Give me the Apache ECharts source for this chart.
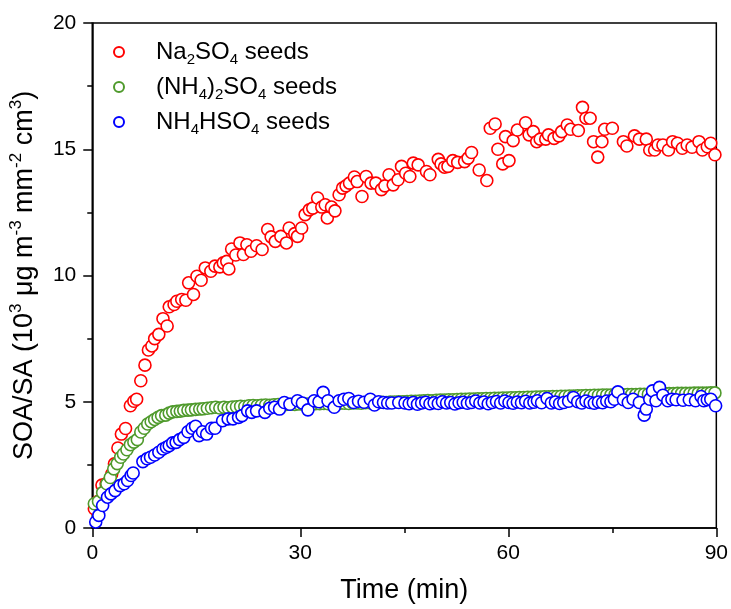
<!DOCTYPE html>
<html>
<head>
<meta charset="utf-8">
<script src="https://cdn.jsdelivr.net/npm/echarts@6/dist/echarts.min.js"></script>
<style>
  html, body { margin: 0; padding: 0; background: #fff; }
  #chart { width: 731px; height: 609px; }
</style>
</head>
<body>
<div id="chart"></div>
<script>
// SOA/SA growth over time for three seed types (10^3 µg m^-3 mm^-2 cm^3)

// Na2SO4 seeds
const naTime = [0.3,0.8,1.4,2.0,2.8,3.2,3.7,4.2,4.8,5.5,6.0,6.4,7.0,7.6,8.1,8.6,9.0,9.6,10.2,10.8,
  11.1,11.8,12.2,12.9,13.5,13.9,14.6,15.1,15.7,16.3,17.1,17.7,18.4,18.9,19.4,19.7,20.1,20.7,21.3,21.8,
  22.3,22.9,23.7,24.5,25.3,25.8,26.4,27.2,28.0,28.4,29.2,29.6,30.2,30.7,31.3,31.8,32.5,33.1,33.6,33.9,
  34.5,35.0,35.6,36.1,36.6,37.1,37.8,38.2,38.9,39.5,40.2,40.9,41.7,42.2,42.8,43.4,44.1,44.6,45.2,45.8,
  46.3,47.0,48.2,48.7,49.9,50.3,50.8,51.3,52.0,52.7,53.7,54.2,54.7,55.8,56.9,57.4,58.1,58.5,59.2,59.6,
  60.1,60.7,61.3,62.5,63.0,63.6,64.1,64.6,65.4,65.8,66.6,67.3,67.7,68.5,69.0,70.1,70.7,71.2,71.8,72.3,
  72.9,73.5,73.9,75.0,76.6,77.1,78.2,78.9,79.9,80.4,81.1,81.6,82.3,83.1,83.7,84.4,85.1,85.8,86.5,87.5,
  88.0,88.7,89.2,89.8];
const naValue = [0.76,1.05,1.70,1.75,2.14,2.54,3.17,3.72,3.94,4.84,5.02,5.10,5.83,6.45,7.05,7.21,7.50,7.67,8.29,8.00,
  8.76,8.85,8.98,9.05,9.02,9.71,9.25,9.97,9.81,10.30,10.17,10.37,10.34,10.50,10.56,10.26,11.05,10.81,11.29,10.83,
  11.22,10.96,11.18,11.03,11.82,11.53,11.35,11.55,11.29,11.88,11.66,11.55,11.88,12.41,12.60,12.67,13.07,12.71,12.80,12.28,
  12.71,12.56,13.20,13.46,13.55,13.66,13.90,13.72,13.13,13.92,13.66,13.66,13.40,13.55,13.99,13.59,13.79,14.32,14.05,13.92,
  14.45,14.38,14.12,13.99,14.60,14.42,14.29,14.32,14.55,14.48,14.51,14.65,14.87,14.18,13.76,15.83,16.00,15.00,14.42,15.50,
  14.55,15.34,15.76,16.05,15.57,15.70,15.30,15.40,15.40,15.57,15.43,15.53,15.70,15.96,15.79,15.74,16.66,16.23,16.23,15.30,
  14.69,15.30,15.79,15.83,15.30,15.13,15.53,15.40,15.40,14.97,14.97,15.17,15.17,14.97,15.30,15.24,15.04,15.17,15.08,15.30,
  14.97,15.10,15.24,14.78];

// (NH4)2SO4 seeds
const anTime = [0.3,0.9,1.5,2.1,2.6,3.1,3.6,4.1,4.5,5.0,5.5,6.0,6.5,7.0,7.5,8.0,8.5,9.0,9.5,10.0,
  10.6,11.1,11.6,12.2,12.7,13.2,13.8,14.3,14.9,15.5,16.0,16.6,17.2,17.8,18.4,19.0,19.6,20.2,20.8,21.4,
  22.0,22.6,23.2,23.8,24.4,25.0,25.6,26.2,26.8,27.4,28.0,28.6,29.2,29.8,30.4,31.0,31.6,32.2,32.8,33.4,
  34.0,34.6,35.2,35.8,36.4,37.0,37.6,38.2,38.8,39.4,40.0,40.6,41.2,41.8,42.4,43.0,43.6,44.2,44.8,45.4,
  46.0,46.6,47.2,47.8,48.4,49.0,49.6,50.2,50.8,51.4,52.0,52.6,53.2,53.8,54.4,55.0,55.6,56.2,56.8,57.4,
  58.0,58.6,59.2,59.8,60.4,61.0,61.6,62.2,62.8,63.4,64.0,64.6,65.2,65.8,66.4,67.0,67.6,68.2,68.8,69.4,
  70.0,70.6,71.2,71.8,72.4,73.0,73.6,74.2,74.8,75.4,76.0,76.6,77.2,77.8,78.4,79.0,79.6,80.2,80.8,81.4,
  82.0,82.6,83.2,83.8,84.4,85.0,85.6,86.2,86.8,87.4,88.0,88.6,89.2,89.8];
const anValue = [0.96,1.05,1.40,1.75,2.00,2.34,2.55,2.80,2.93,3.10,3.30,3.40,3.50,3.80,3.95,4.12,4.21,4.30,4.38,4.45,
  4.47,4.55,4.60,4.62,4.63,4.66,4.67,4.68,4.70,4.71,4.72,4.74,4.76,4.78,4.75,4.78,4.76,4.79,4.80,4.82,
  4.81,4.84,4.85,4.84,4.86,4.87,4.86,4.88,4.89,4.88,4.89,4.90,4.89,4.91,4.90,4.91,4.90,4.92,4.92,4.93,
  4.92,4.93,4.93,4.94,4.94,4.93,4.95,4.95,4.94,4.96,4.96,4.97,4.96,4.98,4.97,4.99,4.99,5.00,5.00,5.01,
  5.02,5.02,5.03,5.04,5.05,5.04,5.06,5.07,5.07,5.08,5.08,5.09,5.10,5.10,5.11,5.11,5.12,5.12,5.13,5.13,
  5.14,5.14,5.15,5.15,5.16,5.16,5.17,5.17,5.18,5.18,5.19,5.19,5.20,5.20,5.21,5.21,5.22,5.22,5.23,5.23,
  5.24,5.24,5.25,5.25,5.26,5.26,5.27,5.27,5.27,5.28,5.28,5.28,5.29,5.29,5.29,5.30,5.30,5.30,5.31,5.31,
  5.31,5.32,5.32,5.32,5.33,5.33,5.33,5.33,5.34,5.34,5.34,5.34,5.35,5.35];

// NH4HSO4 seeds
const abTime = [0.5,0.95,1.5,2.2,2.7,3.3,4.0,4.6,5.1,5.6,5.9,7.3,7.9,8.4,9.0,9.6,10.2,10.7,11.1,11.6,
  12.1,12.6,13.2,13.8,14.4,14.9,15.4,15.9,16.5,17.2,17.7,18.8,19.6,20.3,21.1,21.6,22.4,23.0,23.7,24.9,
  25.6,26.3,27.0,27.7,28.5,29.6,30.3,31.1,32.0,32.7,33.3,34.0,34.9,35.6,36.3,37.0,37.7,38.4,39.2,40.1,
  40.7,41.3,42.0,42.6,43.2,44.2,45.1,45.7,46.3,46.9,47.5,48.1,48.7,49.3,49.9,50.5,51.1,51.7,52.3,52.9,
  53.5,54.1,54.7,55.3,55.9,56.5,57.1,57.7,58.3,58.9,59.5,60.1,60.7,61.3,61.9,62.5,63.1,63.7,64.2,64.8,
  65.6,66.2,66.8,67.4,68.0,68.7,69.4,70.0,70.6,71.2,71.8,72.4,73.0,73.6,74.2,74.8,75.3,75.8,76.6,77.3,
  78.0,78.9,79.6,79.9,80.4,80.8,81.3,81.8,82.3,83.0,83.6,84.2,85.2,86.1,87.0,87.8,88.2,88.7,89.2,89.9];
const abValue = [0.24,0.50,0.89,1.22,1.35,1.48,1.68,1.75,1.88,2.08,2.18,2.63,2.74,2.80,2.89,3.00,3.13,3.20,3.26,3.37,
  3.39,3.50,3.59,3.81,3.95,4.03,3.66,3.81,3.72,3.95,3.95,4.25,4.32,4.32,4.38,4.45,4.64,4.58,4.64,4.58,
  4.74,4.78,4.71,4.97,4.90,5.04,4.95,4.68,5.04,5.00,5.37,5.04,4.78,5.04,5.10,5.13,4.97,5.02,4.98,5.10,
  4.87,5.00,4.97,4.95,4.95,4.97,4.95,4.92,4.97,4.90,4.95,4.98,4.92,4.96,4.93,5.00,4.95,4.97,4.91,4.96,
  4.98,4.94,4.97,5.03,4.95,4.99,4.92,4.97,5.01,4.95,5.03,4.97,4.94,4.99,4.96,5.02,4.95,4.98,5.04,4.96,
  5.13,4.95,4.99,4.93,4.97,5.02,5.17,5.00,4.95,5.03,4.97,4.94,4.99,4.96,5.03,5.00,5.10,5.39,5.08,4.97,
  5.10,4.97,4.47,4.71,5.10,5.43,5.04,5.57,5.26,5.04,5.10,5.08,5.06,5.08,5.04,5.21,5.04,5.08,5.10,4.84];

// Axis ticks
const xTicks = [0, 30, 60, 90];
const yTicks = [0, 5, 10, 15, 20];

const seriesNames = ['Na2SO4 seeds', '(NH4)2SO4 seeds', 'NH4HSO4 seeds'];
const seriesLabels = {
  'Na2SO4 seeds': 'Na{s|2}SO{s|4} seeds',
  '(NH4)2SO4 seeds': '(NH{s|4}){s|2}SO{s|4} seeds',
  'NH4HSO4 seeds': 'NH{s|4}HSO{s|4} seeds'
};
const seriesColors = ['#ff0000', '#4f9a2c', '#0000ff'];

const FONT = "'Liberation Sans', Arial, sans-serif";

function pairs(t, v) { return t.map((x, i) => [x, v[i]]); }
const seriesData = [pairs(naTime, naValue), pairs(anTime, anValue), pairs(abTime, abValue)];

const chart = echarts.init(document.getElementById('chart'), null, { renderer: 'canvas' });

chart.setOption({
  backgroundColor: '#fff',
  animation: false,
  grid: {
    left: 88, right: 14, top: 23, bottom: 80,
    show: true, borderColor: '#000', borderWidth: 1.5, backgroundColor: 'transparent'
  },
  legend: {
    orient: 'vertical',
    left: 113, top: 37,
    padding: 0,
    itemWidth: 10, itemHeight: 10, itemGap: 5,
    data: seriesNames,
    // leading gap token pushes the text away from the marker
    formatter: name => '{g|}' + seriesLabels[name],
    textStyle: {
      fontFamily: FONT, fontSize: 24, color: '#000', lineHeight: 30,
      rich: {
        g: { width: 27 },
        s: { fontFamily: FONT, fontSize: 15, color: '#000', lineHeight: 15, verticalAlign: 'bottom' }
      }
    }
  },
  xAxis: {
    type: 'value', min: xTicks[0], max: xTicks[xTicks.length - 1], interval: 30,
    name: 'Time (min)', nameLocation: 'middle', nameGap: 49,
    nameTextStyle: { fontFamily: FONT, fontSize: 27, color: '#000' },
    axisLine: { show: true, onZero: false, lineStyle: { color: '#000', width: 1.5 } },
    axisTick: { show: true, inside: false, length: 9, lineStyle: { color: '#000', width: 1.5 } },
    minorTick: { show: true, splitNumber: 2, length: 5, lineStyle: { color: '#000', width: 1.5 } },
    axisLabel: { fontFamily: FONT, fontSize: 21, color: '#000', margin: 15 },
    splitLine: { show: false }
  },
  yAxis: {
    type: 'value', min: yTicks[0], max: yTicks[yTicks.length - 1], interval: 5,
    name: 'SOA/SA (10{p|3} μg m{p|-3} mm{p|-2} cm{p|3})', nameLocation: 'middle', nameGap: 44,
    nameTextStyle: {
      fontFamily: FONT, fontSize: 27, color: '#000', lineHeight: 34,
      rich: { p: { fontFamily: FONT, fontSize: 17, color: '#000', lineHeight: 17, verticalAlign: 'top' } }
    },
    axisLine: { show: true, onZero: false, lineStyle: { color: '#000', width: 1.5 } },
    axisTick: { show: true, inside: false, length: 9, lineStyle: { color: '#000', width: 1.5 } },
    minorTick: { show: true, splitNumber: 2, length: 5, lineStyle: { color: '#000', width: 1.5 } },
    axisLabel: { fontFamily: FONT, fontSize: 21, color: '#000', margin: 16 },
    splitLine: { show: false }
  },
  series: seriesNames.map((name, i) => ({
    name: name,
    type: 'scatter',
    symbol: 'circle',
    symbolSize: 12,
    data: seriesData[i],
    itemStyle: { color: '#fff', borderColor: seriesColors[i], borderWidth: 1.6, opacity: 1 },
    emphasis: { disabled: true }
  }))
});
</script>
</body>
</html>
